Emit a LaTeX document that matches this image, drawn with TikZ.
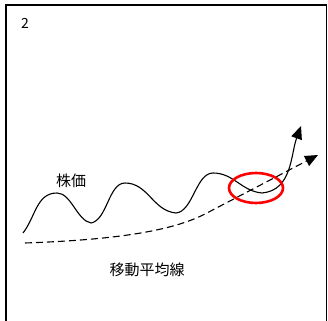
\documentclass[tikz,border=0pt]{standalone}
\usepackage{fontspec}
\setmainfont{Noto Sans CJK JP}
\usetikzlibrary{arrows.meta}
\begin{document}
\begin{tikzpicture}[x=1pt,y=1pt,
  lbl/.style={font=\fontsize{15}{18}\selectfont, inner sep=0pt},
  tip/.style={-{Triangle[length=13pt,width=11pt]}},
  curve/.style={line width=1.1pt},
  avg/.style={line width=1.1pt, dash pattern=on 7pt off 4pt}]
\useasboundingbox (0,0) rectangle (328,320);
\draw[line width=1.3pt] (6,-5) -- (6,315) -- (326.5,315) -- (326.5,-5);
\node[lbl, font=\fontsize{14}{16}\selectfont] (num) at (25,297) {2};
% stock price
\coordinate (s) at (23,87);
\coordinate (p1) at (57,127);
\coordinate (t1) at (91,97);
\coordinate (p2) at (125,137);
\coordinate (t2) at (176,107);
\coordinate (p3) at (213,147);
\coordinate (t3) at (262,127);
\coordinate (e1) at (301,194);
\draw[curve,tip] (s) to[out=52,in=180] (p1) to[out=0,in=170,looseness=0.8] (t1)
  to[out=10,in=180,looseness=0.8] (p2) to[out=0,in=175] (t2) to[out=5,in=180,looseness=0.8] (p3)
  to[out=0,in=175] (t3) to[out=5,in=250] (e1);
% moving average
\coordinate (a0) at (25,77);
\coordinate (e2) at (318,165);
\draw[avg,tip] (a0) .. controls (110,80) and (170,88) .. (205,106) -- (e2);
% ellipse
\draw[red, line width=2.6pt] (256,132) ellipse [x radius=27, y radius=15];
\node[lbl] (kabuka) at (71,139) {株価};
\node[lbl] (idou) at (147,50) {移動平均線};
\end{tikzpicture}
\end{document}
